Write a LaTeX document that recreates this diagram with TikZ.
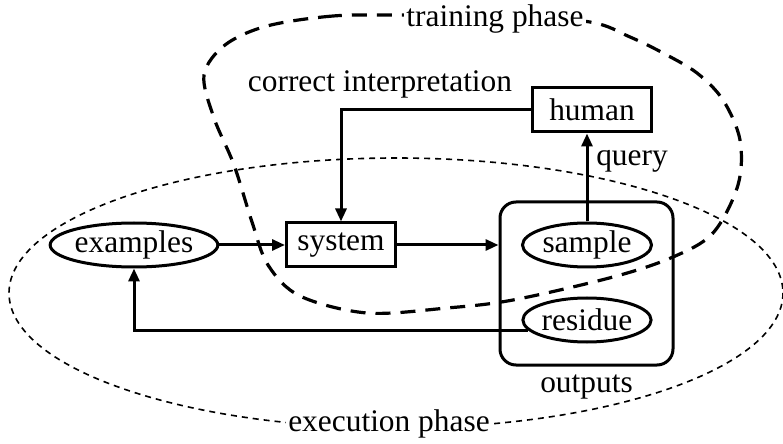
\documentclass[tikz,border=0pt]{standalone}
\usepackage{fontspec}
\setmainfont{Liberation Serif}
\usetikzlibrary{shapes.geometric,arrows.meta}
\begin{document}
\begin{tikzpicture}[x=0.5pt,y=-0.5pt]
		\begin{scope}
		
		\tikzstyle{myellipse}=[ellipse,
		draw=black,
		line width=1.5pt,
		inner sep=0pt,
		minimum height=22pt,
		font=\fontsize{15.7}{18}\selectfont
		]
		\tikzstyle{mybox}=[rectangle,
		draw=black,
		line width=1.5pt,
		inner sep=0pt,
		minimum height=22pt,
		font=\fontsize{15.7}{18}\selectfont
		]
		\tikzstyle{mylabel}=[inner sep=1pt,
		font=\fontsize{15.7}{18}\selectfont
		]
		\tikzstyle{myarrow}=[line width=1.5pt,
		-{Triangle[length=6.5pt,width=5.5pt]}
		]
		
		\useasboundingbox (0,0) rectangle (783,444);
		
		% phases
		\draw[line width=0.8pt, dash pattern=on 3pt off 2.5pt] (396,293) ellipse [x radius=387, y radius=135];
		\draw[line width=1.6pt, dash pattern=on 7.5pt off 5pt] plot[smooth cycle, tension=0.55] coordinates {
			(400,15) (333,16) (267,26) (225,45) (204,75) (214,118) (234,165)
			(252,222) (268,265) (300,296) (367,313) (447,308) (513,300)
			(613,277) (673,257) (713,233) (738,185) (740,140) (723,100)
			(697,73) (663,53) (630,37) (590,22) (500,15)};
		
		\coordinate (pexamples) at (134,245);
		\coordinate (psystem) at (341,245);
		\coordinate (phuman) at (592,110);
		\coordinate (poutputs) at (586.5,283.5);
		\coordinate (psample) at (587,245);
		\coordinate (presidue) at (587,320);
		
		\node[myellipse, minimum width=81.5pt] (examples) at (pexamples) {examples};
		\node[mybox, minimum width=54.5pt] (system) at (psystem) {system};
		\node[mybox, minimum width=59.5pt] (human) at (phuman) {human};
		\node[draw=black, line width=1.5pt, rounded corners=8pt,
			minimum width=86.5pt, minimum height=81.5pt] (outputs) at (poutputs) {};
		\node[myellipse, minimum width=64.5pt] (sample) at (psample) {sample};
		\node[myellipse, minimum width=60pt] (residue) at (presidue) {residue};
		
		\node[mylabel, fill=white] (training) at (495,19) {training phase};
		\node[mylabel, fill=white] (execution) at (389,424) {execution phase};
		\node[mylabel] (correct) at (380,84) {correct interpretation};
		\node[mylabel] (query) at (632,161) {query};
		\node[mylabel, below=3pt] (outlabel) at (outputs.south) {outputs};
		
		\draw[myarrow] (examples) -- (system);
		\draw[myarrow] (system.east) -- (system.east -| outputs.west);
		\draw[myarrow] (sample.north) -- (sample.north |- human.south);
		\draw[myarrow] (human.west) -| (system.north);
		\draw[myarrow] (residue.190) -| (examples.south);
		
		\end{scope}
\end{tikzpicture}
\end{document}
